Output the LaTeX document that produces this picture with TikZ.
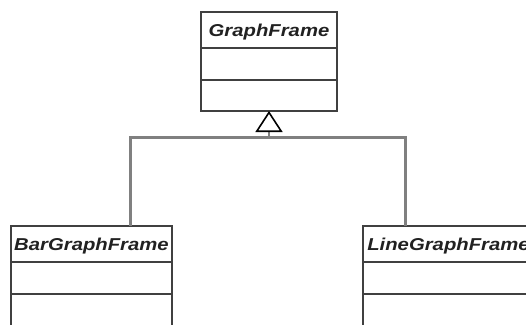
\documentclass[tikz,border=0pt]{standalone}
\usepackage{fontspec}
\setmainfont{Liberation Sans}
\usepackage{graphicx}
\usetikzlibrary{positioning,arrows.meta}
\definecolor{boxlinecolor}{gray}{0.25}
\definecolor{wirecolor}{gray}{0.5}
\definecolor{namecolor}{gray}{0.13}
\newcommand{\umlname}[1]{\scalebox{1.18}[1]{\bfseries\itshape #1}}
\tikzset{
    classname/.style={draw=boxlinecolor, line width=2pt, minimum width=#1,
        minimum height=36pt, inner sep=0pt, outer sep=0pt,
        text height=12.3pt, text depth=0pt, text=namecolor,
        font=\fontsize{17.2}{20}\selectfont},
    compartment/.style={draw=boxlinecolor, line width=2pt, minimum width=#1,
        minimum height=32pt, inner sep=0pt, outer sep=0pt},
    wire/.style={draw=wirecolor, line width=3pt},
    inherit/.style={draw=wirecolor, line width=2pt,
        -{Triangle[length=21pt, width=27pt, fill=white, color=black, line width=1.6pt]}}
}

\begin{document}
\begin{tikzpicture}[x=1pt, y=-1pt]
    \useasboundingbox (0,0) rectangle (526,324);
    \clip (0,0) rectangle (526,324);
    % base class
    \node [classname=136pt, anchor=north] (graphframe) at (269,12) {\umlname{GraphFrame}};
    \node [compartment=136pt, below=0pt of graphframe] (graphframe-attr) {};
    \node [compartment=136pt, minimum height=31pt, below=0pt of graphframe-attr] (graphframe-ops) {};
    % subclasses
    \node [classname=161pt, anchor=north] (barframe) at (91.5,226) {\umlname{BarGraphFrame}};
    \node [compartment=161pt, below=0pt of barframe] (barframe-attr) {};
    \node [compartment=161pt, below=0pt of barframe-attr] (barframe-ops) {};
    \node [classname=171pt, anchor=north west] (lineframe) at (363,226) {\umlname{LineGraphFrame}};
    \node [compartment=171pt, below=0pt of lineframe] (lineframe-attr) {};
    \node [compartment=171pt, below=0pt of lineframe-attr] (lineframe-ops) {};
    % generalization
    \coordinate (fork) at (269,137);
    \coordinate (barjoin) at (130,137);
    \coordinate (linejoin) at (405,137);
    \draw [wire] (barjoin |- barframe.north) -- (barjoin) -- (linejoin) -- (linejoin |- lineframe.north);
    \draw [inherit] (fork) -- (graphframe-ops.south);
\end{tikzpicture}
\end{document}
